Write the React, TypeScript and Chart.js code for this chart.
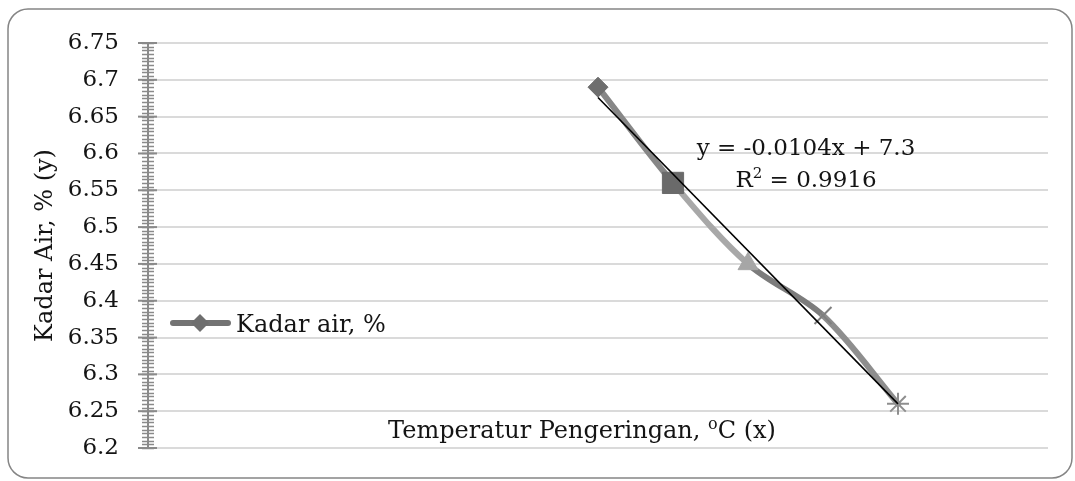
import React, { useEffect, useRef } from 'react';
import { Chart, registerables } from 'chart.js';

Chart.register(...registerables);

// ---------- data ----------
const temperatures = [60, 70, 80, 90, 100];
const kadarAir = [6.69, 6.56, 6.45, 6.38, 6.26];
const yTickValues = [6.2, 6.25, 6.3, 6.35, 6.4, 6.45, 6.5, 6.55, 6.6, 6.65, 6.7, 6.75];
const yTickLabels = ['6.2', '6.25', '6.3', '6.35', '6.4', '6.45', '6.5', '6.55', '6.6', '6.65', '6.7', '6.75'];
const seriesLabel = 'Kadar air, %';
const yAxisTitle = 'Kadar Air, % (y)';
const xAxisTitleParts = [
  { t: 'Temperatur Pengeringan, ', sup: false },
  { t: 'o', sup: true },
  { t: 'C (x)', sup: false },
];
const pointStyles = ['rectRot', 'rect', 'triangle', 'crossRot', 'star'];
const pointColors = ['#6e6e6e', '#6a6a6a', '#a6a6a6', '#7f7f7f', '#8e8e8e'];
const pointRadii = [10, 15, 11.5, 12, 11];
const segmentColors = ['#878787', '#a8a8a8', '#7c7c7c', '#8e8e8e'];

// ---------- linear regression (trendline) ----------
const n = temperatures.length;
const meanX = temperatures.reduce((a, b) => a + b, 0) / n;
const meanY = kadarAir.reduce((a, b) => a + b, 0) / n;
let sxy = 0, sxx = 0, syy = 0;
for (let i = 0; i < n; i++) {
  sxy += (temperatures[i] - meanX) * (kadarAir[i] - meanY);
  sxx += (temperatures[i] - meanX) ** 2;
  syy += (kadarAir[i] - meanY) ** 2;
}
const slope = sxy / sxx;
const intercept = meanY - slope * meanX;
const r2 = (sxy * sxy) / (sxx * syy);
const eqLine1 = `y = ${slope.toFixed(4)}x + ${Number(intercept.toPrecision(4))}`;
const eqR2 = ` = ${r2.toFixed(4)}`;
const xMin = Math.min(...temperatures);
const xMax = Math.max(...temperatures);

const FONT = '"DejaVu Serif", serif';
const FS_TICK = 23;
const FS_EQ = 23;
const FS_TITLE = 24;
const TEXT = '#141414';

function drawParts(ctx: CanvasRenderingContext2D, parts: { t: string; sup: boolean }[], cx: number, baseline: number, size: number) {
  const normal = `${size}px ${FONT}`;
  const small = `${Math.round(size * 0.66)}px ${FONT}`;
  const widths = parts.map((p) => {
    ctx.font = p.sup ? small : normal;
    return ctx.measureText(p.t).width;
  });
  const total = widths.reduce((a, b) => a + b, 0);
  let x = cx - total / 2;
  ctx.textAlign = 'left';
  ctx.textBaseline = 'alphabetic';
  ctx.fillStyle = TEXT;
  parts.forEach((p, i) => {
    ctx.font = p.sup ? small : normal;
    ctx.fillText(p.t, x, p.sup ? baseline - size * 0.38 : baseline);
    x += widths[i];
  });
}

const overlayPlugin = {
  id: 'overlay',
  beforeDraw(chart: any) {
    const ctx = chart.ctx as CanvasRenderingContext2D;
    const w = chart.width, h = chart.height;
    ctx.save();
    ctx.fillStyle = '#ffffff';
    ctx.beginPath();
    (ctx as any).roundRect(1, 1, w - 2, h - 2, 20);
    ctx.fill();
    ctx.strokeStyle = '#858585';
    ctx.lineWidth = 1.5;
    ctx.stroke();
    ctx.restore();
  },
  afterDraw(chart: any) {
    const ctx = chart.ctx as CanvasRenderingContext2D;
    const ys = chart.scales.y;
    const area = chart.chartArea;
    const ax = area.left;
    ctx.save();
    // minor ticks
    ctx.strokeStyle = '#8a8a8a';
    ctx.lineWidth = 1.5;
    const minorStep = 0.005;
    const count = Math.round((yTickValues[yTickValues.length - 1] - yTickValues[0]) / minorStep);
    for (let k = 0; k <= count; k++) {
      const v = yTickValues[0] + k * minorStep;
      const py = Math.round(ys.getPixelForValue(v)) + 0.5;
      ctx.beginPath();
      ctx.moveTo(ax - 6, py);
      ctx.lineTo(ax + 6, py);
      ctx.stroke();
    }
    // major cross ticks
    ctx.lineWidth = 2;
    yTickValues.forEach((v) => {
      const py = ys.getPixelForValue(v);
      ctx.beginPath();
      ctx.moveTo(ax - 10, py);
      ctx.lineTo(ax + 9, py);
      ctx.stroke();
    });

    // x-axis title (inside plot area)
    drawParts(ctx, xAxisTitleParts, 575, 430, FS_TITLE);

    // trendline equation
    drawParts(ctx, [{ t: eqLine1, sup: false }], 799, 147, FS_EQ);
    drawParts(ctx, [{ t: 'R', sup: false }, { t: '2', sup: true }, { t: eqR2, sup: false }], 799, 179, FS_EQ);

    // legend
    const ly = 315;
    ctx.strokeStyle = '#737373';
    ctx.lineWidth = 6;
    ctx.lineCap = 'round';
    ctx.beginPath();
    ctx.moveTo(166, ly);
    ctx.lineTo(221, ly);
    ctx.stroke();
    ctx.fillStyle = '#6e6e6e';
    ctx.beginPath();
    ctx.moveTo(193, ly - 9);
    ctx.lineTo(202, ly);
    ctx.lineTo(193, ly + 9);
    ctx.lineTo(184, ly);
    ctx.closePath();
    ctx.fill();
    ctx.font = `${FS_TITLE}px ${FONT}`;
    ctx.fillStyle = TEXT;
    ctx.textAlign = 'left';
    ctx.textBaseline = 'alphabetic';
    ctx.fillText(seriesLabel, 229, ly + 9);
    ctx.restore();
  },
};

export default function App() {
  const canvasRef = useRef<HTMLCanvasElement | null>(null);

  useEffect(() => {
    if (!canvasRef.current) return;
    const chart = new Chart(canvasRef.current, {
      type: 'line',
      data: {
        datasets: [
          {
            label: 'Linear (' + seriesLabel + ')',
            data: [
              { x: xMin, y: intercept + slope * xMin },
              { x: xMax, y: intercept + slope * xMax },
            ],
            borderColor: '#000000',
            borderWidth: 1.6,
            pointRadius: 0,
            tension: 0,
            order: 0,
          },
          {
            label: seriesLabel,
            data: temperatures.map((x, i) => ({ x, y: kadarAir[i] })),
            borderWidth: 6,
            borderCapStyle: 'round',
            borderJoinStyle: 'round',
            tension: 0.33,
            segment: {
              borderColor: (c: any) => segmentColors[c.p0DataIndex],
            },
            borderColor: segmentColors[0],
            pointStyle: pointStyles as any,
            pointRadius: pointRadii,
            pointBackgroundColor: pointColors,
            pointBorderColor: pointColors,
            pointBorderWidth: [1, 1, 1, 2, 2],
            order: 1,
            clip: false as any,
          },
        ],
      },
      options: {
        animation: false,
        responsive: true,
        maintainAspectRatio: false,
        events: [],
        layout: { padding: { top: 35, right: 25, bottom: 31, left: 0 } },
        plugins: {
          legend: { display: false },
          tooltip: { enabled: false },
          title: { display: false },
        },
        scales: {
          x: {
            type: 'linear',
            min: 0,
            max: 120,
            display: false,
          },
          y: {
            type: 'linear',
            min: yTickValues[0],
            max: yTickValues[yTickValues.length - 1],
            afterBuildTicks: (scale: any) => {
              scale.ticks = yTickValues.map((v) => ({ value: v }));
            },
            afterFit: (scale: any) => {
              scale.width = 141;
              scale.paddingTop = 0;
              scale.paddingBottom = 0;
            },
            ticks: {
              padding: 29,
              color: TEXT,
              font: { family: FONT, size: FS_TICK },
              callback: (v: any) => {
                const i = yTickValues.findIndex((t) => Math.abs(t - Number(v)) < 1e-9);
                return i >= 0 ? yTickLabels[i] : '';
              },
            },
            grid: {
              color: '#dadada',
              lineWidth: 2,
              drawTicks: false,
            },
            border: { display: true, color: '#8a8a8a', width: 2 },
            title: {
              display: true,
              text: yAxisTitle,
              color: TEXT,
              font: { family: FONT, size: FS_TITLE },
              padding: { top: 24, bottom: 0 },
            },
          },
        },
      },
      plugins: [overlayPlugin],
    });
    return () => chart.destroy();
  }, []);

  return (
    <div style={{ position: 'absolute', left: 7, top: 8, width: 1066, height: 471 }}>
      <canvas ref={canvasRef} />
    </div>
  );
}
